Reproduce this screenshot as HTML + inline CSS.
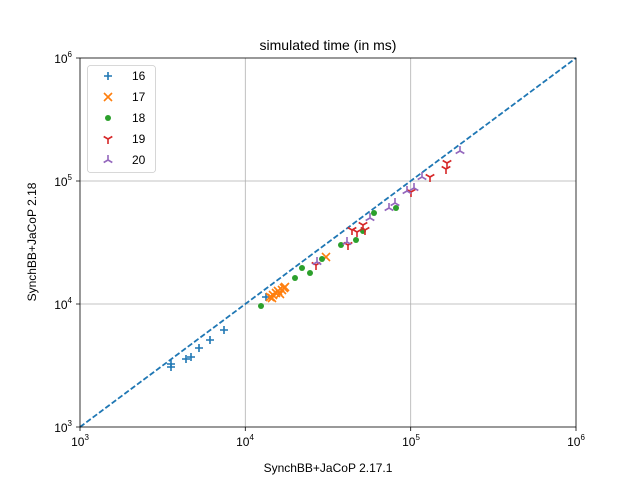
<!DOCTYPE html><html><head><style>body{margin:0;background:#fff}</style></head><body>
<svg width="640" height="480" xmlns="http://www.w3.org/2000/svg" font-family="Liberation Sans, DejaVu Sans, sans-serif">
<defs>
<g id="p"><path d="M-4,0H4M0,-4V4" stroke="#1f77b4" stroke-width="1.6"/></g>
<g id="x"><path d="M-4,-4L4,4M-4,4L4,-4" stroke="#ff7f0e" stroke-width="1.6"/></g>
<g id="d"><circle r="3" fill="#2ca02c"/></g>
<g id="r"><path d="M0,0V5M0,0L-4.3,-2.5M0,0L4.3,-2.5" stroke="#d62728" stroke-width="1.6" fill="none"/></g>
<g id="u"><path d="M0,0V-5M0,0L-4.3,2.5M0,0L4.3,2.5" stroke="#9467bd" stroke-width="1.6" fill="none"/></g>
</defs>
<rect x="80" y="58" width="496" height="369" fill="#fff"/>
<g stroke="#b0b0b0" stroke-width="0.8">
<path d="M245.3,58V427M410.7,58V427M80,181H576M80,304H576"/>
</g>
<path d="M80,427L576,58" stroke="#1f77b4" stroke-width="1.8" stroke-dasharray="5.5,2.4" fill="none"/>
<g>
<use href="#p" x="171" y="367"/><use href="#p" x="171" y="364"/><use href="#p" x="186" y="359"/><use href="#p" x="191" y="357"/><use href="#p" x="199" y="348"/><use href="#p" x="210" y="340"/><use href="#p" x="224" y="330"/><use href="#p" x="266" y="297"/>
<use href="#x" x="270" y="297"/><use href="#x" x="273" y="295"/><use href="#x" x="276" y="293"/><use href="#x" x="278" y="291"/><use href="#x" x="282" y="290"/><use href="#x" x="284" y="288"/><use href="#x" x="285" y="287"/><use href="#x" x="272" y="298"/><use href="#x" x="280" y="294"/><use href="#x" x="326" y="257"/>
<use href="#d" x="261" y="306"/><use href="#d" x="295" y="278"/><use href="#d" x="302" y="268"/><use href="#d" x="310" y="273"/><use href="#d" x="322" y="259"/><use href="#d" x="341" y="245"/><use href="#d" x="356" y="240"/><use href="#d" x="363" y="231"/><use href="#d" x="374" y="213"/><use href="#d" x="396" y="208"/>
<use href="#r" x="316" y="265"/><use href="#r" x="348" y="245"/><use href="#r" x="352" y="230"/><use href="#r" x="357" y="232"/><use href="#r" x="363" y="225"/><use href="#r" x="365" y="230"/><use href="#r" x="411" y="192"/><use href="#r" x="430" y="177"/><use href="#r" x="446" y="169"/><use href="#r" x="447" y="163"/>
<use href="#u" x="347" y="242"/><use href="#u" x="370" y="218"/><use href="#u" x="389" y="208"/><use href="#u" x="395" y="203"/><use href="#u" x="407" y="191"/><use href="#u" x="414" y="188"/><use href="#u" x="422" y="177"/><use href="#u" x="460" y="151"/><use href="#u" x="317" y="262"/>
</g>
<rect x="80" y="58" width="496" height="369" fill="none" stroke="#000" stroke-width="0.8"/>
<g stroke="#000" stroke-width="0.8">
<path d="M80,427v4M245.3,427v4M410.7,427v4M576,427v4M80,58h-4M80,181h-4M80,304h-4M80,427h-4"/>
</g>
<g font-size="12" fill="#000">
<text x="80" y="446" text-anchor="middle">10<tspan dy="-6" font-size="8">3</tspan></text>
<text x="245" y="446" text-anchor="middle">10<tspan dy="-6" font-size="8">4</tspan></text>
<text x="411" y="446" text-anchor="middle">10<tspan dy="-6" font-size="8">5</tspan></text>
<text x="576" y="446" text-anchor="middle">10<tspan dy="-6" font-size="8">6</tspan></text>
<text x="72" y="432" text-anchor="end">10<tspan dy="-6" font-size="8">3</tspan></text>
<text x="72" y="309" text-anchor="end">10<tspan dy="-6" font-size="8">4</tspan></text>
<text x="72" y="186" text-anchor="end">10<tspan dy="-6" font-size="8">5</tspan></text>
<text x="72" y="63" text-anchor="end">10<tspan dy="-6" font-size="8">6</tspan></text>
<text x="328" y="472" text-anchor="middle">SynchBB+JaCoP 2.17.1</text>
<text transform="translate(36,242) rotate(-90)" text-anchor="middle">SynchBB+JaCoP 2.18</text>
<text x="328" y="50" text-anchor="middle" font-size="14">simulated time (in ms)</text>
</g>
<rect x="87.5" y="65.5" width="68" height="107" rx="3" fill="#fff" stroke="#ccc" stroke-width="0.8"/>
<use href="#p" x="108" y="76"/><use href="#x" x="108" y="97"/><use href="#d" x="108" y="118"/><use href="#r" x="108" y="139"/><use href="#u" x="108" y="160"/>
<g font-size="12"><text x="132" y="80">16</text><text x="132" y="101">17</text><text x="132" y="122">18</text><text x="132" y="143">19</text><text x="132" y="164">20</text></g>
</svg></body></html>
